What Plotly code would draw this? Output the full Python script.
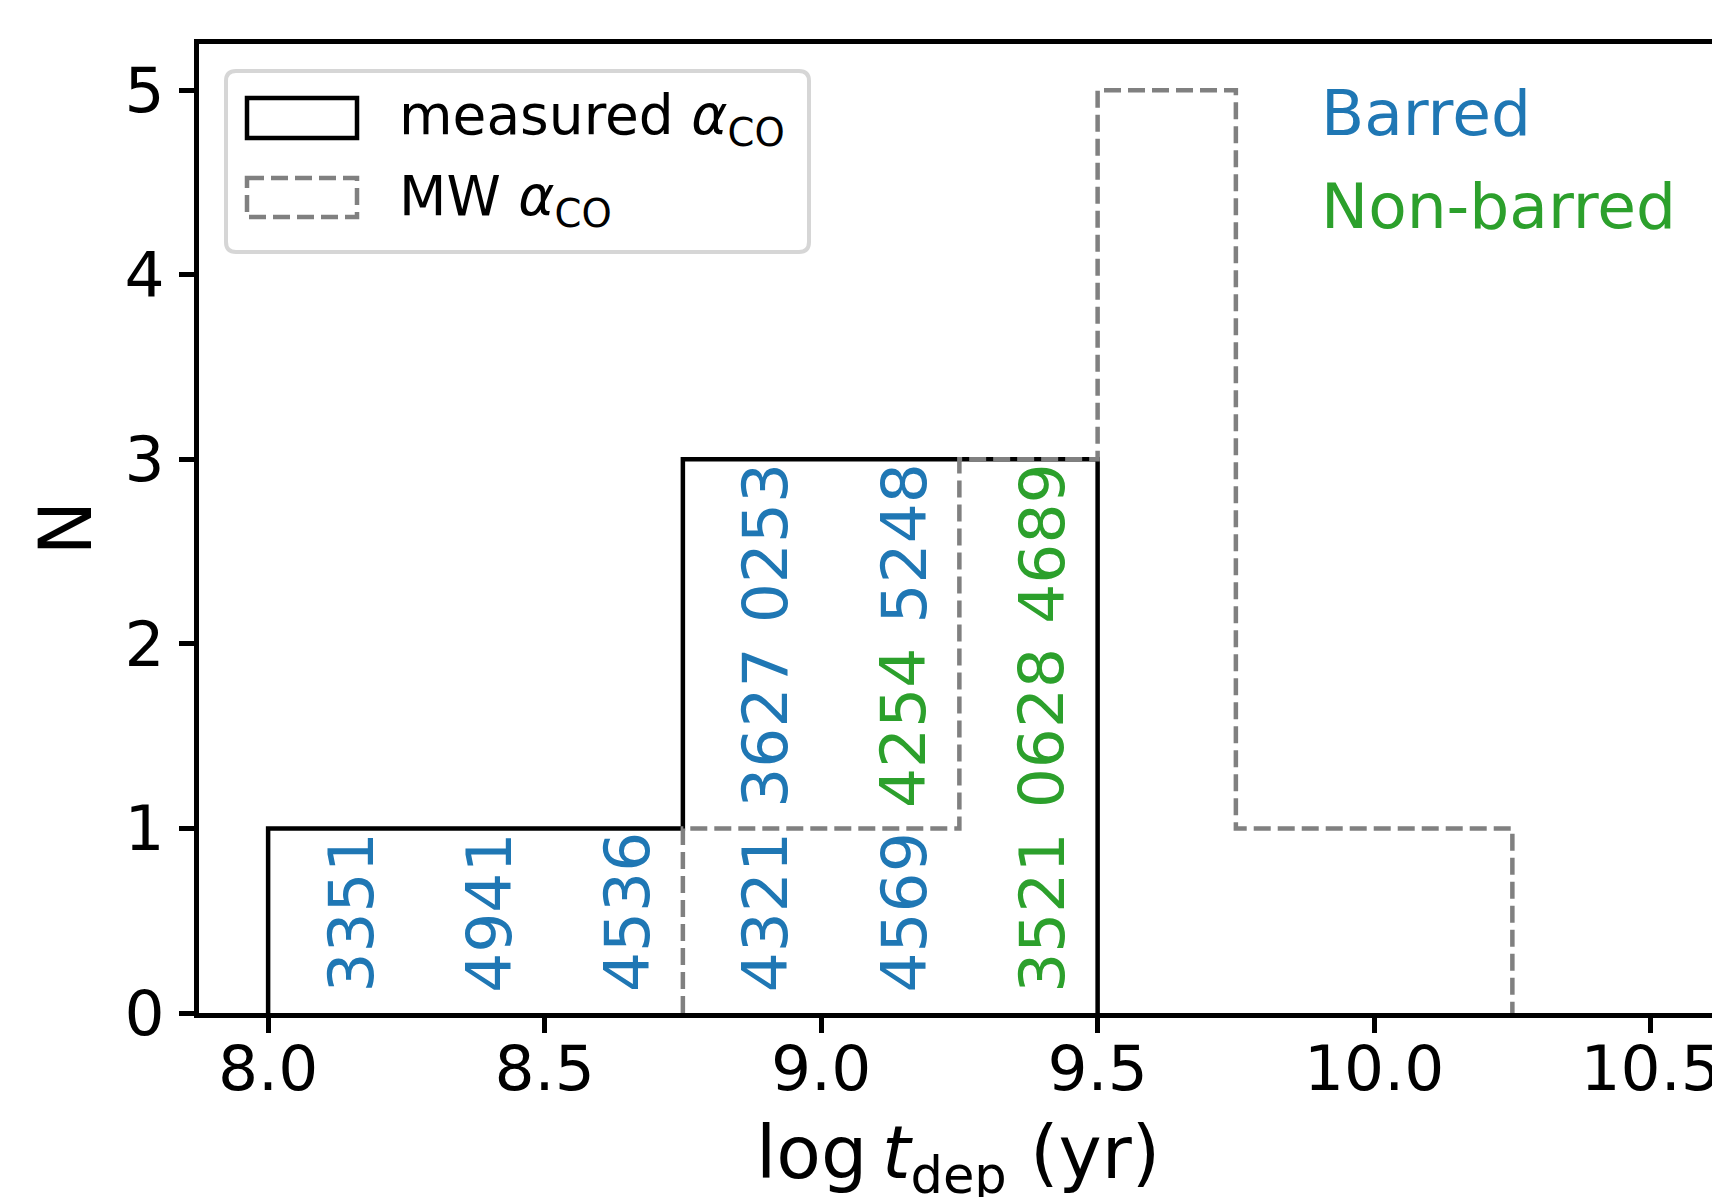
import plotly.graph_objects as go

# ---------------- data ----------------
bin_edges = [8.0, 8.25, 8.5, 8.75, 9.0, 9.25, 9.5, 9.75, 10.0, 10.25, 10.5]
measured_counts = [1, 1, 1, 3, 3, 3, 0, 0, 0, 0]
mw_counts = [0, 0, 0, 1, 1, 3, 5, 1, 1, 0]

galaxy_ids = ["3351", "4941", "4536", "4321", "4569", "3521",
              "3627", "4254", "0628", "0253", "5248", "4689"]
galaxy_bin = [8.0, 8.25, 8.5, 8.75, 9.0, 9.25,
              8.75, 9.0, 9.25, 8.75, 9.0, 9.25]
galaxy_barred = [True, True, True, True, True, False,
                 True, False, False, True, True, False]

x_ticks = [8.0, 8.5, 9.0, 9.5, 10.0, 10.5]
y_ticks = [0, 1, 2, 3, 4, 5]

# ---------------- style / layout constants ----------------
W, H = 1712, 1197
L, T, B = 199, 44, 1013
FONT = "DejaVu Sans"
BLUE = "#1f77b4"
GREEN = "#2ca02c"
GREY = "#808080"
LW = 4.5
FS = 63
FS_KEY = 63
FS_LEG = 55
FS_TITLE = 73

def px2paper(px, py):
    return (px - L) / (W - L), (B - py) / (B - T)

def step_xy(edges, counts):
    nz = [i for i, c in enumerate(counts) if c > 0]
    i0, i1 = nz[0], nz[-1]
    xs = [edges[i0]] + list(edges[i0:i1 + 2])
    ys = [0] + list(counts[i0:i1 + 1]) + [0]
    return xs, ys

fig = go.Figure()

xm, ym = step_xy(bin_edges, measured_counts)
fig.add_trace(go.Scatter(x=xm, y=ym, mode="lines", line_shape="hv",
                         line=dict(color="black", width=LW),
                         name="measured", showlegend=False, hoverinfo="skip"))
xw, yw = step_xy(bin_edges, mw_counts)
fig.add_trace(go.Scatter(x=xw, y=yw, mode="lines", line_shape="hv",
                         line=dict(color=GREY, width=LW, dash="17px,7px"),
                         name="MW", showlegend=False, hoverinfo="skip"))

annotations = []
# galaxy ID labels stacked inside each bin
row_count = {}
for gid, b, barred in zip(galaxy_ids, galaxy_bin, galaxy_barred):
    row = row_count.get(b, 0)
    row_count[b] = row + 1
    annotations.append(dict(
        x=b + 0.15, y=row + 0.1, xref="x", yref="y", text=gid,
        textangle=-90, xanchor="center", yanchor="bottom", showarrow=False,
        font=dict(family=FONT, size=FS, color=BLUE if barred else GREEN)))

# Barred / Non-barred key
_, by = px2paper(0, 113)
annotations.append(dict(x=9.9, y=by, xref="x", yref="paper", text="Barred",
                        xanchor="left", yanchor="middle", showarrow=False,
                        font=dict(family=FONT, size=FS_KEY, color=BLUE)))
_, by = px2paper(0, 206)
annotations.append(dict(x=9.9, y=by, xref="x", yref="paper", text="Non-barred",
                        xanchor="left", yanchor="middle", showarrow=False,
                        font=dict(family=FONT, size=FS_KEY, color=GREEN)))

# axis titles
ax_, ay_ = px2paper(65, (T + B) / 2)
annotations.append(dict(x=ax_, y=ay_, xref="paper", yref="paper", text="N",
                        textangle=-90, xanchor="center", yanchor="middle",
                        showarrow=False, font=dict(family=FONT, size=FS_TITLE, color="black")))
tx, ty = px2paper(958, 1157)
annotations.append(dict(x=tx, y=ty, xref="paper", yref="paper",
                        text="log\u2009<i>t</i><sub>dep</sub> (yr)",
                        xanchor="center", yanchor="middle", showarrow=False,
                        font=dict(family=FONT, size=FS_TITLE, color="black")))

# legend (drawn manually)
shapes = []
def rounded_rect(x0, y0, x1, y1, r):
    def P(px, py):
        a, b = px2paper(px, py)
        return f"{a:.5f},{b:.5f}"
    return (f"M {P(x0 + r, y0)} L {P(x1 - r, y0)} Q {P(x1, y0)} {P(x1, y0 + r)} "
            f"L {P(x1, y1 - r)} Q {P(x1, y1)} {P(x1 - r, y1)} "
            f"L {P(x0 + r, y1)} Q {P(x0, y1)} {P(x0, y1 - r)} "
            f"L {P(x0, y0 + r)} Q {P(x0, y0)} {P(x0 + r, y0)} Z")

shapes.append(dict(type="path", xref="paper", yref="paper",
                   path=rounded_rect(226, 71, 809, 252, 10),
                   line=dict(color="#d6d6d6", width=4), fillcolor="rgba(255,255,255,0.8)",
                   layer="above"))
x0, y0 = px2paper(247, 98)
x1, y1 = px2paper(357, 138)
shapes.append(dict(type="rect", xref="paper", yref="paper", x0=x0, y0=y0, x1=x1, y1=y1,
                   line=dict(color="black", width=LW), layer="above"))
x0, y0 = px2paper(247, 178)
x1, y1 = px2paper(357, 217)
shapes.append(dict(type="rect", xref="paper", yref="paper", x0=x0, y0=y0, x1=x1, y1=y1,
                   line=dict(color=GREY, width=LW, dash="17px,7px"), layer="above"))

lx, ly = px2paper(397, 119)
annotations.append(dict(x=lx, y=ly, xref="paper", yref="paper",
                        text="measured <i>α</i><sub>CO</sub>",
                        xanchor="left", yanchor="middle", showarrow=False,
                        font=dict(family=FONT, size=FS_LEG, color="black")))
lx, ly = px2paper(397, 200)
annotations.append(dict(x=lx, y=ly, xref="paper", yref="paper",
                        text="MW <i>α</i><sub>CO</sub>",
                        xanchor="left", yanchor="middle", showarrow=False,
                        font=dict(family=FONT, size=FS_LEG, color="black")))

fig.update_layout(
    width=W, height=H,
    margin=dict(l=L, r=0, t=T, b=H - B, pad=0, autoexpand=False),
    paper_bgcolor="white", plot_bgcolor="white",
    showlegend=False,
    annotations=annotations, shapes=shapes,
    font=dict(family=FONT, size=FS, color="black"),
)
fig.update_xaxes(range=[7.875, 10.611], tickvals=x_ticks,
                 ticktext=[f"{v:.1f}" for v in x_ticks],
                 automargin=False, ticklabeloverflow="allow",
                 showgrid=False, zeroline=False, showline=True, mirror=True,
                 linecolor="black", linewidth=LW, ticks="outside", ticklen=15,
                 tickwidth=LW, tickcolor="black", ticklabelstandoff=-18,
                 tickfont=dict(family=FONT, size=FS, color="black"))
fig.update_yaxes(range=[0, 5.25], tickvals=y_ticks,
                 ticktext=[str(v) for v in y_ticks],
                 automargin=False,
                 showgrid=False, zeroline=False, showline=True, mirror=False,
                 linecolor="black", linewidth=LW, ticks="outside", ticklen=15,
                 tickwidth=LW, tickcolor="black", ticklabelstandoff=2,
                 tickfont=dict(family=FONT, size=FS, color="black"))

fig.write_html("out.html", config={"displayModeBar": False},
               post_script="document.body.style.margin='0';document.body.style.overflow='hidden';")
